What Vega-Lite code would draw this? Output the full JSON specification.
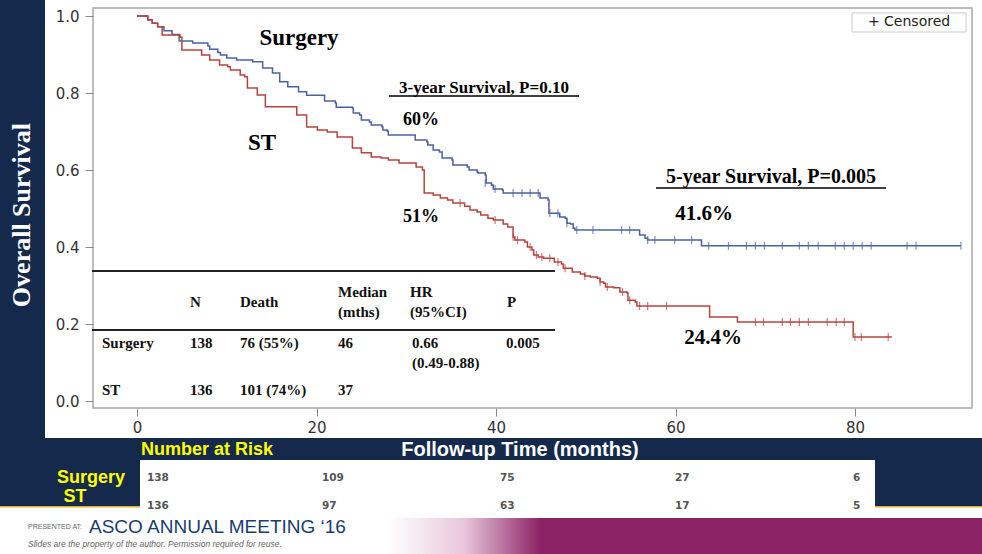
{
  "$schema": "https://vega.github.io/schema/vega-lite/v6.json",
  "width": 982,
  "height": 554,
  "autosize": {"type": "none"},
  "padding": 0,
  "background": "#15294d",
  "config": {"view": {"stroke": null}},
  "datasets": {
    "curves": [
      {"g":"Surgery","t":0,"s":1.0},{"g":"Surgery","t":1.2,"s":0.99},{"g":"Surgery","t":1.7,"s":0.981},{"g":"Surgery","t":2.3,"s":0.972},{"g":"Surgery","t":3.0,"s":0.962},{"g":"Surgery","t":3.9,"s":0.952},{"g":"Surgery","t":4.7,"s":0.935},{"g":"Surgery","t":6.2,"s":0.93},{"g":"Surgery","t":7.9,"s":0.922},{"g":"Surgery","t":8.1,"s":0.914},{"g":"Surgery","t":9.0,"s":0.905},{"g":"Surgery","t":9.3,"s":0.899},{"g":"Surgery","t":10.0,"s":0.891},{"g":"Surgery","t":11.1,"s":0.886},{"g":"Surgery","t":12.9,"s":0.881},{"g":"Surgery","t":14.0,"s":0.865},{"g":"Surgery","t":15.1,"s":0.852},{"g":"Surgery","t":15.9,"s":0.829},{"g":"Surgery","t":16.8,"s":0.816},{"g":"Surgery","t":18.0,"s":0.803},{"g":"Surgery","t":18.9,"s":0.794},{"g":"Surgery","t":20.9,"s":0.779},{"g":"Surgery","t":22.1,"s":0.774},{"g":"Surgery","t":22.2,"s":0.763},{"g":"Surgery","t":24.0,"s":0.761},{"g":"Surgery","t":24.1,"s":0.748},{"g":"Surgery","t":24.8,"s":0.743},{"g":"Surgery","t":25.0,"s":0.73},{"g":"Surgery","t":25.9,"s":0.725},{"g":"Surgery","t":26.1,"s":0.717},{"g":"Surgery","t":27.3,"s":0.712},{"g":"Surgery","t":27.4,"s":0.704},{"g":"Surgery","t":27.9,"s":0.701},{"g":"Surgery","t":28.0,"s":0.691},{"g":"Surgery","t":31.0,"s":0.678},{"g":"Surgery","t":32.3,"s":0.673},{"g":"Surgery","t":32.4,"s":0.665},{"g":"Surgery","t":33.0,"s":0.652},{"g":"Surgery","t":33.7,"s":0.647},{"g":"Surgery","t":34.0,"s":0.631},{"g":"Surgery","t":35.1,"s":0.626},{"g":"Surgery","t":35.2,"s":0.613},{"g":"Surgery","t":36.8,"s":0.608},{"g":"Surgery","t":37.0,"s":0.6},{"g":"Surgery","t":37.9,"s":0.595},{"g":"Surgery","t":38.0,"s":0.592},{"g":"Surgery","t":38.8,"s":0.587},{"g":"Surgery","t":38.9,"s":0.566},{"g":"Surgery","t":39.5,"s":0.561},{"g":"Surgery","t":39.7,"s":0.551},{"g":"Surgery","t":40.7,"s":0.548},{"g":"Surgery","t":40.8,"s":0.54},{"g":"Surgery","t":44.9,"s":0.527},{"g":"Surgery","t":45.8,"s":0.522},{"g":"Surgery","t":45.9,"s":0.488},{"g":"Surgery","t":47.1,"s":0.478},{"g":"Surgery","t":47.7,"s":0.475},{"g":"Surgery","t":47.9,"s":0.462},{"g":"Surgery","t":48.3,"s":0.46},{"g":"Surgery","t":48.6,"s":0.449},{"g":"Surgery","t":48.8,"s":0.444},{"g":"Surgery","t":56.0,"s":0.431},{"g":"Surgery","t":56.6,"s":0.423},{"g":"Surgery","t":56.9,"s":0.418},{"g":"Surgery","t":62.9,"s":0.403},{"g":"Surgery","t":91.8,"s":0.403},
      {"g":"ST","t":0,"s":1.0},{"g":"ST","t":1.2,"s":0.99},{"g":"ST","t":1.7,"s":0.981},{"g":"ST","t":2.3,"s":0.972},{"g":"ST","t":2.8,"s":0.951},{"g":"ST","t":4.8,"s":0.945},{"g":"ST","t":5.0,"s":0.912},{"g":"ST","t":7.2,"s":0.899},{"g":"ST","t":8.1,"s":0.886},{"g":"ST","t":9.2,"s":0.873},{"g":"ST","t":10.1,"s":0.868},{"g":"ST","t":10.4,"s":0.86},{"g":"ST","t":11.5,"s":0.847},{"g":"ST","t":12.0,"s":0.842},{"g":"ST","t":12.3,"s":0.813},{"g":"ST","t":13.4,"s":0.795},{"g":"ST","t":14.3,"s":0.764},{"g":"ST","t":17.8,"s":0.743},{"g":"ST","t":18.9,"s":0.712},{"g":"ST","t":20.1,"s":0.704},{"g":"ST","t":21.2,"s":0.699},{"g":"ST","t":22.3,"s":0.686},{"g":"ST","t":24.0,"s":0.657},{"g":"ST","t":25.0,"s":0.645},{"g":"ST","t":26.1,"s":0.634},{"g":"ST","t":27.2,"s":0.631},{"g":"ST","t":28.0,"s":0.626},{"g":"ST","t":29.2,"s":0.618},{"g":"ST","t":31.1,"s":0.608},{"g":"ST","t":31.8,"s":0.6},{"g":"ST","t":32.0,"s":0.54},{"g":"ST","t":33.0,"s":0.535},{"g":"ST","t":33.8,"s":0.527},{"g":"ST","t":34.6,"s":0.522},{"g":"ST","t":35.2,"s":0.514},{"g":"ST","t":36.5,"s":0.506},{"g":"ST","t":37.1,"s":0.496},{"g":"ST","t":37.9,"s":0.491},{"g":"ST","t":38.3,"s":0.483},{"g":"ST","t":39.1,"s":0.475},{"g":"ST","t":39.7,"s":0.47},{"g":"ST","t":40.8,"s":0.46},{"g":"ST","t":41.3,"s":0.452},{"g":"ST","t":41.9,"s":0.426},{"g":"ST","t":42.1,"s":0.418},{"g":"ST","t":43.2,"s":0.413},{"g":"ST","t":43.5,"s":0.4},{"g":"ST","t":44.0,"s":0.392},{"g":"ST","t":44.2,"s":0.379},{"g":"ST","t":44.7,"s":0.374},{"g":"ST","t":45.3,"s":0.371},{"g":"ST","t":46.5,"s":0.361},{"g":"ST","t":47.3,"s":0.356},{"g":"ST","t":47.5,"s":0.345},{"g":"ST","t":48.5,"s":0.335},{"g":"ST","t":49.4,"s":0.33},{"g":"ST","t":49.9,"s":0.325},{"g":"ST","t":50.5,"s":0.322},{"g":"ST","t":51.3,"s":0.319},{"g":"ST","t":51.6,"s":0.309},{"g":"ST","t":52.0,"s":0.306},{"g":"ST","t":52.2,"s":0.296},{"g":"ST","t":53.1,"s":0.294},{"g":"ST","t":53.8,"s":0.283},{"g":"ST","t":54.6,"s":0.281},{"g":"ST","t":54.7,"s":0.262},{"g":"ST","t":55.5,"s":0.257},{"g":"ST","t":55.7,"s":0.247},{"g":"ST","t":63.8,"s":0.218},{"g":"ST","t":66.9,"s":0.205},{"g":"ST","t":79.8,"s":0.166},{"g":"ST","t":84.1,"s":0.166}
    ],
    "censored": [
      {"g":"Surgery","t":38.8,"s":0.566},{"g":"Surgery","t":39.9,"s":0.551},{"g":"Surgery","t":41.9,"s":0.54},{"g":"Surgery","t":42.9,"s":0.54},{"g":"Surgery","t":43.8,"s":0.54},{"g":"Surgery","t":44.7,"s":0.54},{"g":"Surgery","t":46.0,"s":0.488},{"g":"Surgery","t":46.9,"s":0.488},{"g":"Surgery","t":47.9,"s":0.462},{"g":"Surgery","t":49.0,"s":0.444},{"g":"Surgery","t":50.8,"s":0.444},{"g":"Surgery","t":54.0,"s":0.444},{"g":"Surgery","t":54.9,"s":0.444},{"g":"Surgery","t":56.9,"s":0.418},{"g":"Surgery","t":57.7,"s":0.418},{"g":"Surgery","t":59.9,"s":0.418},{"g":"Surgery","t":61.8,"s":0.418},{"g":"Surgery","t":63.7,"s":0.403},{"g":"Surgery","t":65.9,"s":0.403},{"g":"Surgery","t":67.9,"s":0.403},{"g":"Surgery","t":68.9,"s":0.403},{"g":"Surgery","t":69.9,"s":0.403},{"g":"Surgery","t":71.9,"s":0.403},{"g":"Surgery","t":73.8,"s":0.403},{"g":"Surgery","t":74.8,"s":0.403},{"g":"Surgery","t":75.9,"s":0.403},{"g":"Surgery","t":77.8,"s":0.403},{"g":"Surgery","t":78.8,"s":0.403},{"g":"Surgery","t":79.8,"s":0.403},{"g":"Surgery","t":80.8,"s":0.403},{"g":"Surgery","t":81.8,"s":0.403},{"g":"Surgery","t":85.8,"s":0.403},{"g":"Surgery","t":86.8,"s":0.403},{"g":"Surgery","t":91.8,"s":0.403},
      {"g":"ST","t":36.0,"s":0.514},{"g":"ST","t":39.9,"s":0.47},{"g":"ST","t":41.9,"s":0.426},{"g":"ST","t":42.4,"s":0.418},{"g":"ST","t":43.8,"s":0.4},{"g":"ST","t":44.5,"s":0.379},{"g":"ST","t":45.1,"s":0.374},{"g":"ST","t":46.0,"s":0.371},{"g":"ST","t":46.9,"s":0.361},{"g":"ST","t":47.7,"s":0.345},{"g":"ST","t":49.9,"s":0.325},{"g":"ST","t":51.6,"s":0.309},{"g":"ST","t":52.4,"s":0.296},{"g":"ST","t":54.1,"s":0.283},{"g":"ST","t":54.9,"s":0.262},{"g":"ST","t":56.0,"s":0.247},{"g":"ST","t":56.9,"s":0.247},{"g":"ST","t":59.0,"s":0.247},{"g":"ST","t":68.9,"s":0.205},{"g":"ST","t":69.8,"s":0.205},{"g":"ST","t":71.9,"s":0.205},{"g":"ST","t":72.8,"s":0.205},{"g":"ST","t":73.8,"s":0.205},{"g":"ST","t":74.8,"s":0.205},{"g":"ST","t":76.9,"s":0.205},{"g":"ST","t":77.9,"s":0.205},{"g":"ST","t":78.8,"s":0.205},{"g":"ST","t":80.0,"s":0.166},{"g":"ST","t":80.7,"s":0.166},{"g":"ST","t":83.7,"s":0.166}
    ]
  },
  "layer": [
    {"data": {"values": [{}]}, "mark": {"type": "rect", "color": "#ffffff"},
     "encoding": {"x": {"datum": -10.25, "type": "quantitative", "scale": {"domain": [-15.265, 94.15], "nice": false, "zero": false}}, "x2": {"datum": 94.15},
                  "y": {"datum": 1.0416, "type": "quantitative", "scale": {"domain": [-0.3974, 1.0416], "nice": false, "zero": false}}, "y2": {"datum": -0.0961}}},
    {"data": {"values": [{"text": "Surgery", "t": -5.13, "s": -0.2}, {"text": "ST", "t": -6.9, "s": -0.249}]},
     "mark": {"type": "text", "font": "Liberation Sans", "fontWeight": "bold", "fontSize": 18, "color": "#ffff00", "baseline": "middle", "align": "center"},
     "encoding": {"x": {"field": "t", "type": "quantitative", "scale": {"domain": [-15.265, 94.15], "nice": false, "zero": false}},
                  "y": {"field": "s", "type": "quantitative", "scale": {"domain": [-0.3974, 1.0416], "nice": false, "zero": false}}, "text": {"field": "text"}}},
    {"data": {"values": [{}]}, "mark": {"type": "rect", "color": "#ffffff"},
     "encoding": {"x": {"datum": -15.265, "type": "quantitative", "scale": {"domain": [-15.265, 94.15], "nice": false, "zero": false}}, "x2": {"datum": 94.15},
                  "y": {"datum": -0.2753, "type": "quantitative", "scale": {"domain": [-0.3974, 1.0416], "nice": false, "zero": false}}, "y2": {"datum": -0.3974}}},
    {"data": {"values": [{}]}, "mark": {"type": "rect", "color": "#8c2366"},
     "encoding": {"x": {"datum": 44.9, "type": "quantitative", "scale": {"domain": [-15.265, 94.15], "nice": false, "zero": false}}, "x2": {"datum": 94.15},
                  "y": {"datum": -0.3039, "type": "quantitative", "scale": {"domain": [-0.3974, 1.0416], "nice": false, "zero": false}}, "y2": {"datum": -0.3974}}},
    {"data": {"values": [{}]}, "mark": {"type": "rect", "color": {"gradient": "linear", "x1": 0, "y1": 0, "x2": 1, "y2": 0, "stops": [{"offset": 0, "color": "#ffffff"}, {"offset": 0.5, "color": "#e8c6da"}, {"offset": 1, "color": "#8c2366"}]}},
     "encoding": {"x": {"datum": 28.0, "type": "quantitative", "scale": {"domain": [-15.265, 94.15], "nice": false, "zero": false}}, "x2": {"datum": 44.95},
                  "y": {"datum": -0.3039, "type": "quantitative", "scale": {"domain": [-0.3974, 1.0416], "nice": false, "zero": false}}, "y2": {"datum": -0.3974}}},
    {"data": {"values": [{}]}, "mark": {"type": "rule", "color": "#e0b02a", "strokeWidth": 1.5},
     "encoding": {"x": {"datum": -15.265, "type": "quantitative", "scale": {"domain": [-15.265, 94.15], "nice": false, "zero": false}}, "x2": {"datum": 94.15},
                  "y": {"datum": -0.2745, "type": "quantitative", "scale": {"domain": [-0.3974, 1.0416], "nice": false, "zero": false}}}},
    {"data": {"values": [{}]}, "mark": {"type": "rect", "color": "#ffffff"},
     "encoding": {"x": {"datum": 0.334, "type": "quantitative", "scale": {"domain": [-15.265, 94.15], "nice": false, "zero": false}}, "x2": {"datum": 82.23},
                  "y": {"datum": -0.1532, "type": "quantitative", "scale": {"domain": [-0.3974, 1.0416], "nice": false, "zero": false}}, "y2": {"datum": -0.3039}}},
    {"data": {"values": [{}]}, "mark": {"type": "rect", "fill": null, "stroke": "#a8a8a8", "strokeWidth": 1.5},
     "encoding": {"x": {"datum": -4.9, "type": "quantitative", "scale": {"domain": [-15.265, 94.15], "nice": false, "zero": false}}, "x2": {"datum": 93.04},
                  "y": {"datum": 1.0208, "type": "quantitative", "scale": {"domain": [-0.3974, 1.0416], "nice": false, "zero": false}}, "y2": {"datum": -0.0182}}},
    {"data": {"values": [{}]}, "mark": {"type": "rect", "fill": "#ffffff", "stroke": "#cccccc", "strokeWidth": 1},
     "encoding": {"x": {"datum": 79.67, "type": "quantitative", "scale": {"domain": [-15.265, 94.15], "nice": false, "zero": false}}, "x2": {"datum": 92.37},
                  "y": {"datum": 1.0078, "type": "quantitative", "scale": {"domain": [-0.3974, 1.0416], "nice": false, "zero": false}}, "y2": {"datum": 0.9584}}},
    {"data": {"values": [{}]}, "mark": {"type": "rule", "color": "#222222", "strokeWidth": 2},
     "encoding": {"x": {"datum": -5.01, "type": "quantitative", "scale": {"domain": [-15.265, 94.15], "nice": false, "zero": false}}, "x2": {"datum": 46.57},
                  "y": {"datum": 0.3377, "type": "quantitative", "scale": {"domain": [-0.3974, 1.0416], "nice": false, "zero": false}}}},
    {"data": {"values": [{}]}, "mark": {"type": "rule", "color": "#222222", "strokeWidth": 2},
     "encoding": {"x": {"datum": -5.01, "type": "quantitative", "scale": {"domain": [-15.265, 94.15], "nice": false, "zero": false}}, "x2": {"datum": 46.57},
                  "y": {"datum": 0.1844, "type": "quantitative", "scale": {"domain": [-0.3974, 1.0416], "nice": false, "zero": false}}}},
    {"data": {"values": [{}]}, "mark": {"type": "rule", "color": "#000000", "strokeWidth": 1.5},
     "encoding": {"x": {"datum": 28.08, "type": "quantitative", "scale": {"domain": [-15.265, 94.15], "nice": false, "zero": false}}, "x2": {"datum": 49.25},
                  "y": {"datum": 0.792, "type": "quantitative", "scale": {"domain": [-0.3974, 1.0416], "nice": false, "zero": false}}}},
    {"data": {"values": [{}]}, "mark": {"type": "rule", "color": "#000000", "strokeWidth": 1.5},
     "encoding": {"x": {"datum": 57.83, "type": "quantitative", "scale": {"domain": [-15.265, 94.15], "nice": false, "zero": false}}, "x2": {"datum": 83.45},
                  "y": {"datum": 0.553, "type": "quantitative", "scale": {"domain": [-0.3974, 1.0416], "nice": false, "zero": false}}}},
    {"data": {"name": "curves"}, "mark": {"type": "line", "interpolate": "step-after", "strokeWidth": 1.5},
     "encoding": {"x": {"field": "t", "type": "quantitative", "scale": {"domain": [-15.265, 94.15], "nice": false, "zero": false},
                        "axis": {"values": [0, 20, 40, 60, 80], "offset": -146, "zindex": 1, "domain": false, "grid": false, "ticks": true, "labels": true, "tickSize": 8, "tickColor": "#8a8a8a", "labelColor": "#333333", "labelFont": "DejaVu Sans", "labelFontSize": 15, "labelPadding": 4, "title": null}},
                  "y": {"field": "s", "type": "quantitative", "scale": {"domain": [-0.3974, 1.0416], "nice": false, "zero": false},
                        "axis": {"values": [0, 0.2, 0.4, 0.6, 0.8, 1.0], "format": ".1f", "offset": -93, "zindex": 1, "domain": false, "grid": false, "ticks": true, "labels": true, "tickSize": 8, "tickColor": "#8a8a8a", "labelColor": "#333333", "labelFont": "DejaVu Sans", "labelFontSize": 15, "labelPadding": 6, "title": null}},
                  "color": {"field": "g", "type": "nominal", "scale": {"domain": ["Surgery", "ST"], "range": ["#4b61a2", "#b5443e"]}, "legend": null}}},
    {"data": {"name": "censored"}, "mark": {"type": "tick", "orient": "vertical", "size": 8, "thickness": 1.2},
     "encoding": {"x": {"field": "t", "type": "quantitative", "scale": {"domain": [-15.265, 94.15], "nice": false, "zero": false}},
                  "y": {"field": "s", "type": "quantitative", "scale": {"domain": [-0.3974, 1.0416], "nice": false, "zero": false}},
                  "color": {"field": "g", "type": "nominal", "scale": {"domain": ["Surgery", "ST"], "range": ["#4b61a2", "#b5443e"]}, "legend": null}}},
    {"data": {"values": [{"text": "Surgery", "t": 18.05, "s": 0.943}, {"text": "ST", "t": 13.93, "s": 0.67}]},
     "mark": {"type": "text", "font": "Liberation Serif", "fontWeight": "bold", "fontSize": 23, "color": "#000000", "baseline": "middle", "align": "center"},
     "encoding": {"x": {"field": "t", "type": "quantitative", "scale": {"domain": [-15.265, 94.15], "nice": false, "zero": false}},
                  "y": {"field": "s", "type": "quantitative", "scale": {"domain": [-0.3974, 1.0416], "nice": false, "zero": false}}, "text": {"field": "text"}}},
    {"data": {"values": [{"text": "3-year Survival, P=0.10", "t": 38.66, "s": 0.813}]},
     "mark": {"type": "text", "font": "Liberation Serif", "fontWeight": "bold", "fontSize": 17, "color": "#000000", "baseline": "middle", "align": "center"},
     "encoding": {"x": {"field": "t", "type": "quantitative", "scale": {"domain": [-15.265, 94.15], "nice": false, "zero": false}},
                  "y": {"field": "s", "type": "quantitative", "scale": {"domain": [-0.3974, 1.0416], "nice": false, "zero": false}}, "text": {"field": "text"}}},
    {"data": {"values": [{"text": "5-year Survival, P=0.005", "t": 70.64, "s": 0.582}]},
     "mark": {"type": "text", "font": "Liberation Serif", "fontWeight": "bold", "fontSize": 20, "color": "#000000", "baseline": "middle", "align": "center"},
     "encoding": {"x": {"field": "t", "type": "quantitative", "scale": {"domain": [-15.265, 94.15], "nice": false, "zero": false}},
                  "y": {"field": "s", "type": "quantitative", "scale": {"domain": [-0.3974, 1.0416], "nice": false, "zero": false}}, "text": {"field": "text"}}},
    {"data": {"values": [{"text": "60%", "t": 31.64, "s": 0.73}, {"text": "51%", "t": 31.64, "s": 0.478}]},
     "mark": {"type": "text", "font": "Liberation Serif", "fontWeight": "bold", "fontSize": 18, "color": "#000000", "baseline": "middle", "align": "center"},
     "encoding": {"x": {"field": "t", "type": "quantitative", "scale": {"domain": [-15.265, 94.15], "nice": false, "zero": false}},
                  "y": {"field": "s", "type": "quantitative", "scale": {"domain": [-0.3974, 1.0416], "nice": false, "zero": false}}, "text": {"field": "text"}}},
    {"data": {"values": [{"text": "41.6%", "t": 63.18, "s": 0.486}, {"text": "24.4%", "t": 64.18, "s": 0.164}]},
     "mark": {"type": "text", "font": "Liberation Serif", "fontWeight": "bold", "fontSize": 21, "color": "#000000", "baseline": "middle", "align": "center"},
     "encoding": {"x": {"field": "t", "type": "quantitative", "scale": {"domain": [-15.265, 94.15], "nice": false, "zero": false}},
                  "y": {"field": "s", "type": "quantitative", "scale": {"domain": [-0.3974, 1.0416], "nice": false, "zero": false}}, "text": {"field": "text"}}},
    {"data": {"values": [
       {"text": "N", "t": 5.91, "s": 0.2571}, {"text": "Death", "t": 11.48, "s": 0.2571}, {"text": "Median", "t": 22.4, "s": 0.2831}, {"text": "(mths)", "t": 22.4, "s": 0.2312}, {"text": "HR", "t": 30.42, "s": 0.2831}, {"text": "(95%CI)", "t": 30.42, "s": 0.2312}, {"text": "P", "t": 41.23, "s": 0.2571},
       {"text": "Surgery", "t": -3.9, "s": 0.1506}, {"text": "138", "t": 5.91, "s": 0.1506}, {"text": "76 (55%)", "t": 11.48, "s": 0.1506}, {"text": "46", "t": 22.4, "s": 0.1506}, {"text": "0.66", "t": 30.64, "s": 0.1506}, {"text": "(0.49-0.88)", "t": 30.64, "s": 0.0987}, {"text": "0.005", "t": 41.12, "s": 0.1506},
       {"text": "ST", "t": -3.9, "s": 0.0286}, {"text": "136", "t": 5.91, "s": 0.0286}, {"text": "101 (74%)", "t": 11.48, "s": 0.0286}, {"text": "37", "t": 22.4, "s": 0.0286}]},
     "mark": {"type": "text", "font": "Liberation Serif", "fontWeight": "bold", "fontSize": 15, "color": "#111111", "baseline": "middle", "align": "left"},
     "encoding": {"x": {"field": "t", "type": "quantitative", "scale": {"domain": [-15.265, 94.15], "nice": false, "zero": false}},
                  "y": {"field": "s", "type": "quantitative", "scale": {"domain": [-0.3974, 1.0416], "nice": false, "zero": false}}, "text": {"field": "text"}}},
    {"data": {"values": [{"text": "+ Censored", "t": 86.02, "s": 0.9844}]},
     "mark": {"type": "text", "font": "DejaVu Sans", "fontSize": 14, "color": "#222222", "baseline": "middle", "align": "center"},
     "encoding": {"x": {"field": "t", "type": "quantitative", "scale": {"domain": [-15.265, 94.15], "nice": false, "zero": false}},
                  "y": {"field": "s", "type": "quantitative", "scale": {"domain": [-0.3974, 1.0416], "nice": false, "zero": false}}, "text": {"field": "text"}}},
    {"data": {"values": [{"text": "Overall Survival", "t": -12.81, "s": 0.483}]},
     "mark": {"type": "text", "font": "Liberation Serif", "fontWeight": "bold", "fontSize": 26, "color": "#ffffff", "baseline": "middle", "align": "center", "angle": 270},
     "encoding": {"x": {"field": "t", "type": "quantitative", "scale": {"domain": [-15.265, 94.15], "nice": false, "zero": false}},
                  "y": {"field": "s", "type": "quantitative", "scale": {"domain": [-0.3974, 1.0416], "nice": false, "zero": false}}, "text": {"field": "text"}}},
    {"data": {"values": [{"text": "Number at Risk", "t": 7.8, "s": -0.1273}]},
     "mark": {"type": "text", "font": "Liberation Sans", "fontWeight": "bold", "fontSize": 18, "color": "#ffff00", "baseline": "middle", "align": "center"},
     "encoding": {"x": {"field": "t", "type": "quantitative", "scale": {"domain": [-15.265, 94.15], "nice": false, "zero": false}},
                  "y": {"field": "s", "type": "quantitative", "scale": {"domain": [-0.3974, 1.0416], "nice": false, "zero": false}}, "text": {"field": "text"}}},
    {"data": {"values": [{"text": "Follow-up Time (months)", "t": 42.67, "s": -0.1273}]},
     "mark": {"type": "text", "font": "Liberation Sans", "fontWeight": "bold", "fontSize": 20, "color": "#ffffff", "baseline": "middle", "align": "center"},
     "encoding": {"x": {"field": "t", "type": "quantitative", "scale": {"domain": [-15.265, 94.15], "nice": false, "zero": false}},
                  "y": {"field": "s", "type": "quantitative", "scale": {"domain": [-0.3974, 1.0416], "nice": false, "zero": false}}, "text": {"field": "text"}}},
    {"data": {"values": [
       {"text": "138", "t": 1.11, "s": -0.2}, {"text": "109", "t": 20.61, "s": -0.2}, {"text": "75", "t": 40.45, "s": -0.2}, {"text": "27", "t": 59.94, "s": -0.2}, {"text": "6", "t": 79.78, "s": -0.2},
       {"text": "136", "t": 1.11, "s": -0.2727}, {"text": "97", "t": 20.61, "s": -0.2727}, {"text": "63", "t": 40.45, "s": -0.2727}, {"text": "17", "t": 59.94, "s": -0.2727}, {"text": "5", "t": 79.78, "s": -0.2727}]},
     "mark": {"type": "text", "font": "DejaVu Sans", "fontWeight": "bold", "fontSize": 10.5, "color": "#555555", "baseline": "middle", "align": "left"},
     "encoding": {"x": {"field": "t", "type": "quantitative", "scale": {"domain": [-15.265, 94.15], "nice": false, "zero": false}},
                  "y": {"field": "s", "type": "quantitative", "scale": {"domain": [-0.3974, 1.0416], "nice": false, "zero": false}}, "text": {"field": "text"}}},
    {"data": {"values": [{"text": "PRESENTED AT:", "t": -12.14, "s": -0.3273}]},
     "mark": {"type": "text", "font": "Liberation Sans", "fontSize": 7, "color": "#666666", "baseline": "middle", "align": "left"},
     "encoding": {"x": {"field": "t", "type": "quantitative", "scale": {"domain": [-15.265, 94.15], "nice": false, "zero": false}},
                  "y": {"field": "s", "type": "quantitative", "scale": {"domain": [-0.3974, 1.0416], "nice": false, "zero": false}}, "text": {"field": "text"}}},
    {"data": {"values": [{"text": "ASCO ANNUAL MEETING ‘16", "t": -5.35, "s": -0.3273}]},
     "mark": {"type": "text", "font": "Liberation Sans", "fontSize": 19, "color": "#17406f", "baseline": "middle", "align": "left"},
     "encoding": {"x": {"field": "t", "type": "quantitative", "scale": {"domain": [-15.265, 94.15], "nice": false, "zero": false}},
                  "y": {"field": "s", "type": "quantitative", "scale": {"domain": [-0.3974, 1.0416], "nice": false, "zero": false}}, "text": {"field": "text"}}},
    {"data": {"values": [{"text": "Slides are the property of the author. Permission required for reuse.", "t": -12.14, "s": -0.3714}]},
     "mark": {"type": "text", "font": "Liberation Sans", "fontStyle": "italic", "fontSize": 8.5, "color": "#666666", "baseline": "middle", "align": "left"},
     "encoding": {"x": {"field": "t", "type": "quantitative", "scale": {"domain": [-15.265, 94.15], "nice": false, "zero": false}},
                  "y": {"field": "s", "type": "quantitative", "scale": {"domain": [-0.3974, 1.0416], "nice": false, "zero": false}}, "text": {"field": "text"}}}
  ]
}
